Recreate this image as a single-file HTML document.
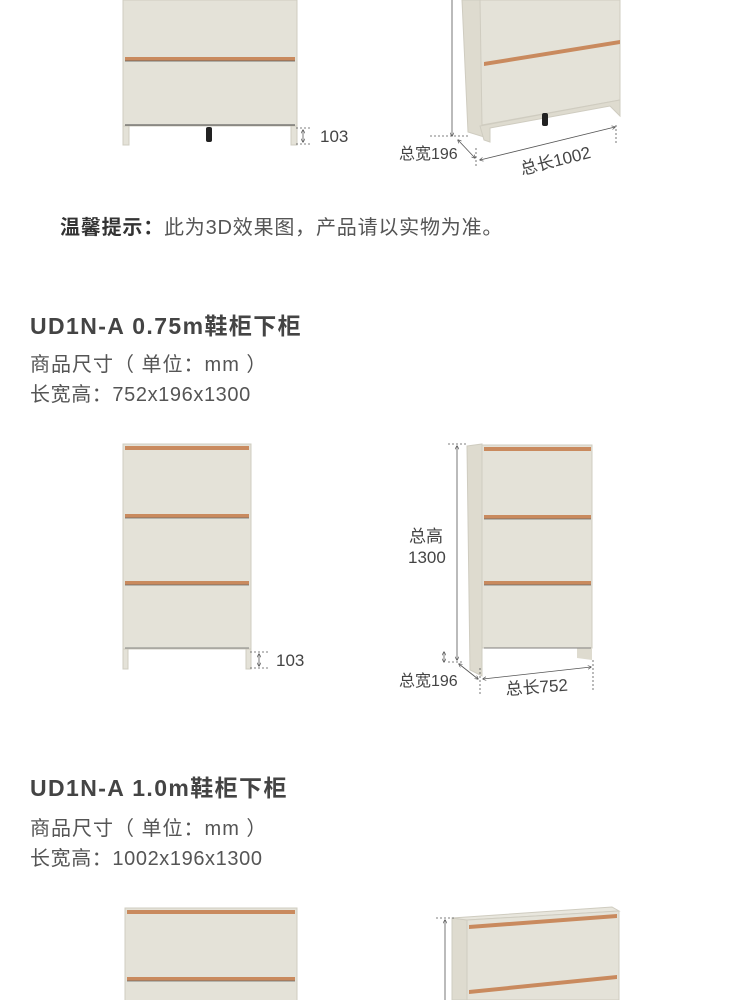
<!DOCTYPE html>
<html><head><meta charset="utf-8"><style>
body{margin:0;background:#fff;}
svg{display:block}
text{font-family:"Liberation Sans","Noto Sans CJK SC",sans-serif;}
</style></head><body>
<svg width="750" height="1000" viewBox="0 0 750 1000" xmlns="http://www.w3.org/2000/svg">
<defs>
<marker id="ar" viewBox="0 0 6 6" refX="5" refY="3" markerWidth="5" markerHeight="5" orient="auto-start-reverse"><path d="M0,0 L6,3 L0,6" fill="none" stroke="#555" stroke-width="1"/></marker>
</defs>
<g fill="#e4e2d8" stroke="#cfccc0" stroke-width="1">
<rect x="123" y="0" width="174" height="126" />
<rect x="123" y="126" width="6" height="19"/><rect x="291" y="126" width="6" height="19"/>
</g>
<rect x="125" y="57" width="170" height="4" fill="#c98a5e"/>
<line x1="125" y1="61" x2="295" y2="61" stroke="#555" stroke-width="0.8"/>
<line x1="125" y1="125" x2="295" y2="125" stroke="#444" stroke-width="1"/>
<rect x="206" y="127" width="6" height="15" rx="2" fill="#222"/>
<g stroke="#555" stroke-width="0.8" fill="none" stroke-dasharray="2,2">
<line x1="296" y1="128" x2="312" y2="128"/><line x1="296" y1="144" x2="312" y2="144"/>
</g>
<line x1="303" y1="130" x2="303" y2="142" stroke="#555" stroke-width="0.8" marker-start="url(#ar)" marker-end="url(#ar)"/>
<text x="320" y="142" font-size="17" fill="#444">103</text>

<polygon points="462,0 482,0 484,137 468,132" fill="#dedbcf" stroke="#cfccc0"/>
<polygon points="480,0 620,0 620,100 482,125" fill="#e4e2d8" stroke="#cfccc0"/>
<polygon points="484,62 620,40 620,44 484,66" fill="#c98a5e"/>
<polygon points="480,126 620,100 620,116 610,106 490,128 490,142 484,140" fill="#dedbcf" stroke="#cfccc0"/>
<rect x="542" y="113" width="6" height="13" rx="2" fill="#222"/>
<line x1="452" y1="0" x2="452" y2="136" stroke="#555" stroke-width="0.8" marker-end="url(#ar)"/>
<g stroke="#555" stroke-width="0.8" fill="none" stroke-dasharray="2,2">
<line x1="430" y1="136" x2="468" y2="136"/><line x1="476" y1="148" x2="476" y2="166"/><line x1="616" y1="125" x2="616" y2="145"/>
</g>
<line x1="458" y1="140" x2="475" y2="158" stroke="#555" stroke-width="0.8" marker-start="url(#ar)" marker-end="url(#ar)"/>
<line x1="480" y1="160" x2="615" y2="127" stroke="#555" stroke-width="0.8" marker-start="url(#ar)" marker-end="url(#ar)"/>
<text x="399" y="159" font-size="16" fill="#444">总宽196</text>
<text x="522" y="175" font-size="17" fill="#444" transform="rotate(-14 522 175)">总长1002</text>

<text x="60" y="234" font-size="20" letter-spacing="0.8" fill="#333"><tspan font-weight="bold">温馨提示：</tspan><tspan fill="#555">此为3D效果图，产品请以实物为准。</tspan></text>

<text x="30" y="334" font-size="23" letter-spacing="1.4" font-weight="bold" fill="#444">UD1N-A 0.75m鞋柜下柜</text>
<text x="30" y="371" font-size="20" letter-spacing="1" fill="#555">商品尺寸（ 单位：mm ）</text>
<text x="30" y="401" font-size="20" letter-spacing="0.6" fill="#555">长宽高：752x196x1300</text>

<g fill="#e4e2d8" stroke="#cfccc0">
<rect x="123" y="444" width="128" height="205"/>
<rect x="123" y="649" width="5" height="20"/><rect x="246" y="649" width="5" height="20"/>
</g>
<g fill="#c98a5e"><rect x="125" y="446" width="124" height="4"/><rect x="125" y="514" width="124" height="4"/><rect x="125" y="581" width="124" height="4"/></g>
<g stroke="#666" stroke-width="0.8"><line x1="125" y1="518" x2="249" y2="518"/><line x1="125" y1="585" x2="249" y2="585"/><line x1="125" y1="648" x2="249" y2="648"/></g>
<g stroke="#555" stroke-width="0.8" fill="none" stroke-dasharray="2,2">
<line x1="250" y1="652" x2="268" y2="652"/><line x1="250" y1="668" x2="268" y2="668"/>
</g>
<line x1="259" y1="654" x2="259" y2="666" stroke="#555" stroke-width="0.8" marker-start="url(#ar)" marker-end="url(#ar)"/>
<text x="276" y="666" font-size="17" fill="#444">103</text>

<polygon points="467,446 482,444 482,676 470,670" fill="#dedbcf" stroke="#cfccc0"/>
<rect x="482" y="445" width="110" height="203" fill="#e4e2d8" stroke="#cfccc0"/>
<polygon points="577,648 592,648 592,660 577,658" fill="#dedbcf"/>
<g fill="#c98a5e"><rect x="484" y="447" width="107" height="4"/><rect x="484" y="515" width="107" height="4"/><rect x="484" y="581" width="107" height="4"/></g>
<g stroke="#666" stroke-width="0.8"><line x1="484" y1="519" x2="591" y2="519"/><line x1="484" y1="585" x2="591" y2="585"/><line x1="484" y1="648" x2="591" y2="648"/></g>
<line x1="457" y1="446" x2="457" y2="660" stroke="#555" stroke-width="0.8" marker-start="url(#ar)" marker-end="url(#ar)"/>
<g stroke="#555" stroke-width="0.8" fill="none" stroke-dasharray="2,2">
<line x1="448" y1="444" x2="466" y2="444"/><line x1="448" y1="662" x2="462" y2="662"/><line x1="480" y1="668" x2="480" y2="694"/><line x1="593" y1="660" x2="593" y2="690"/>
</g>
<line x1="444" y1="652" x2="444" y2="662" stroke="#555" stroke-width="0.8" marker-start="url(#ar)" marker-end="url(#ar)"/>
<line x1="459" y1="664" x2="478" y2="679" stroke="#555" stroke-width="0.8" marker-start="url(#ar)" marker-end="url(#ar)"/>
<line x1="483" y1="679" x2="591" y2="667" stroke="#555" stroke-width="0.8" marker-start="url(#ar)" marker-end="url(#ar)"/>
<text x="409" y="542" font-size="17" fill="#444">总高</text>
<text x="408" y="563" font-size="17" fill="#444">1300</text>
<text x="399" y="686" font-size="16" fill="#444">总宽196</text>
<text x="506" y="695" font-size="17" fill="#444" transform="rotate(-4 506 695)">总长752</text>

<text x="30" y="796" font-size="23" letter-spacing="1.4" font-weight="bold" fill="#444">UD1N-A 1.0m鞋柜下柜</text>
<text x="30" y="835" font-size="20" letter-spacing="1" fill="#555">商品尺寸（ 单位：mm ）</text>
<text x="30" y="865" font-size="20" letter-spacing="0.6" fill="#555">长宽高：1002x196x1300</text>

<rect x="125" y="908" width="172" height="100" fill="#e4e2d8" stroke="#cfccc0"/>
<g fill="#c98a5e"><rect x="127" y="910" width="168" height="4"/><rect x="127" y="977" width="168" height="4"/></g>
<line x1="127" y1="981" x2="295" y2="981" stroke="#666" stroke-width="0.8"/>

<polygon points="452,918 467,920 467,1000 452,1000" fill="#dedbcf" stroke="#cfccc0"/>
<polygon points="452,918 612,907 619,911 467,920" fill="#e8e6dd" stroke="#cfccc0"/>
<polygon points="467,920 619,911 619,1000 467,1000" fill="#e4e2d8" stroke="#cfccc0"/>
<polygon points="469,925 617,914 617,918 469,929" fill="#c98a5e"/>
<polygon points="469,990 617,975 617,979 469,994" fill="#c98a5e"/>
<line x1="445" y1="920" x2="445" y2="1000" stroke="#555" stroke-width="0.8" marker-start="url(#ar)"/>
<line x1="436" y1="918" x2="456" y2="918" stroke="#555" stroke-width="0.8" stroke-dasharray="2,2"/>
</svg>
</body></html>
